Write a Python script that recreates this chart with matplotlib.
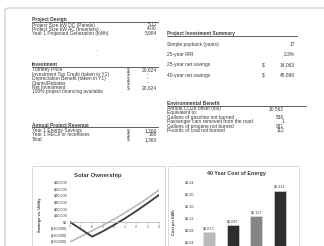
import matplotlib.pyplot as plt
from matplotlib.patches import FancyBboxPatch, Rectangle
from matplotlib.lines import Line2D

W, H = 324, 246

# table contents
design_labels = ["Project Size kW DC (Panels)", "Project Size kW AC (Inverters)",
                 "Year 1 Projected Generation (kWh)"]
design_values = ["5.12", "4.00", "5,984"]

invest_labels = ["Turnkey Price", "Investment Tax Credit (taken in Y1)",
                 "Depreciation Benefit (taken in Y1)", "Grants/Rebates", "Net Investment"]
invest_values = ["20,624", "-", "-", "-", "20,624"]
invest_note = "100% project financing available"

revenue_labels = ["Year 1 Energy Savings", "Year 1 RECs or Incentives", "Total"]
revenue_values = ["1,260", "100", "1,360"]

summary_labels = ["Simple payback (years)", "25-year IRR", "25-year net savings",
                  "40-year net savings"]
summary_values = ["17", "2.3%", "14,063", "45,896"]
summary_dollar = [False, False, True, True]

env_labels = ["Annual CO2e offset (lbs)", "Equivalent to:", "Gallons of gasoline not burned",
              "Passenger cars removed from the road", "Gallons of propane not burned",
              "Pounds of coal not burned"]
env_values = ["10,562", "", "538", "1", "931", "112"]

# chart data
own_years = [0, 5, 10, 15, 20, 25, 30, 35, 40]
own_financed = [0, -11000, -22000, -13500, -4000, 6000, 17000, 28500, 40500]
own_cash = [-30000, -21500, -13000, -4500, 4500, 14500, 25000, 36000, 48000]
own_yticks = [-30000, -20000, -10000, 0, 10000, 20000, 30000, 40000, 50000, 60000]

coe_values = [0.073, 0.097, 0.127, 0.211]
coe_colors = ["#b9b9b9", "#2e2e2e", "#858585", "#2e2e2e"]
coe_yticks = [0.04, 0.08, 0.12, 0.16, 0.20, 0.24]

FONT = "Liberation Sans"
FS = 3.5
TXT = "#3a3a3a"


def fx(x):
    return x / W


def fy(y):
    return 1 - y / H


def text(fig, x, y, s, ha="left", **kw):
    kw.setdefault("fontsize", FS)
    kw.setdefault("color", TXT)
    fig.text(fx(x), fy(y), s, ha=ha, va="center", family=FONT, zorder=5, **kw)


def header(fig, x0, x1, y, s):
    text(fig, x0, y, s, fontweight="bold")
    fig.add_artist(Line2D([fx(x0), fx(x1)], [fy(y + 2.3)] * 2, color="#444444", lw=0.6,
                          zorder=5))


def money_fmt(v, pos=None):
    if v < 0:
        return f"(${-v:,.0f})"
    return f"${v:,.0f}"


fig = plt.figure(figsize=(W / 100, H / 100), dpi=100)
fig.patch.set_facecolor("white")

# page frame
fig.add_artist(FancyBboxPatch((fx(5), fy(260)), fx(330), fy(8) - fy(260),
                              boxstyle="round,pad=0,rounding_size=0.012",
                              transform=fig.transFigure, fc="white", ec="#c4c4c4", lw=0.8,
                              zorder=-2))

# Project Design
header(fig, 32, 158, 20, "Project Design")
for i, (lab, val) in enumerate(zip(design_labels, design_values)):
    y = 25 + 4 * i
    text(fig, 32, y, lab)
    text(fig, 157, y, val, ha="right")
text(fig, 96, 52, "'", color="#999999")

# Investment
header(fig, 32, 158, 65, "Investment")
for i, (lab, val) in enumerate(zip(invest_labels, invest_values)):
    y = 70 + 4.4 * i
    text(fig, 32, y, lab)
    text(fig, 127, y, "$")
    if val == "-":
        text(fig, 148, y, val, ha="center")
    else:
        text(fig, 157, y, val, ha="right")
text(fig, 32, 70 + 4.4 * 5, invest_note)

# Annual Project Revenue
header(fig, 32, 158, 125, "Annual Project Revenue")
for i, (lab, val) in enumerate(zip(revenue_labels, revenue_values)):
    y = 130.7 + 4.3 * i
    text(fig, 32, y, lab)
    text(fig, 127, y, "$")
    text(fig, 157, y, val, ha="right")

# Project Investment Summary
header(fig, 167, 297, 33.3, "Project Investment Summary")
for i, (lab, val) in enumerate(zip(summary_labels, summary_values)):
    y = 44.3 + 10.3 * i
    text(fig, 167, y, lab)
    if summary_dollar[i]:
        text(fig, 262, y, "$")
    text(fig, 295, y, val, ha="right")

# Environmental Benefit
header(fig, 167, 306, 103.3, "Environmental Benefit")
for i, (lab, val) in enumerate(zip(env_labels, env_values)):
    y = 108.3 + 4.5 * i
    text(fig, 167, y, lab)
    text(fig, 284, y, val, ha="right")

# chart frames
for x0, x1 in [(32, 165), (168, 299)]:
    fig.add_artist(Rectangle((fx(x0), fy(262)), fx(x1) - fx(x0), fy(166) - fy(262),
                             transform=fig.transFigure, fc="white", ec="#d4d4d4", lw=0.6,
                             zorder=-1))

# Solar Ownership
ax1 = fig.add_axes([fx(70), fy(242), fx(159) - fx(70), fy(182) - fy(242)], zorder=3)
ax1.plot(own_years, own_cash, color="#b5b5b5", lw=1.1)
ax1.plot(own_years, own_financed, color="#3a3a3a", lw=1.3)
ax1.set_xlim(0, 40)
ax1.set_ylim(-30000, 60000)
ax1.set_yticks(own_yticks)
ax1.yaxis.set_major_formatter(plt.FuncFormatter(money_fmt))
ax1.set_xticks(own_years)
for s in ["top", "right", "left"]:
    ax1.spines[s].set_visible(False)
ax1.spines["bottom"].set_position(("data", 0))
ax1.spines["bottom"].set_color("#aaaaaa")
ax1.spines["bottom"].set_linewidth(0.5)
ax1.tick_params(axis="y", length=0, labelsize=2.7, labelcolor=TXT, pad=2)
ax1.tick_params(axis="x", length=1.2, width=0.4, color="#aaaaaa", labelsize=1.9,
                labelcolor="#666666", pad=0.8)
for t in ax1.get_xticklabels() + ax1.get_yticklabels():
    t.set_family(FONT)
ax1.set_facecolor("none")
text(fig, 98, 176, "Solar Ownership", ha="center", fontsize=4.3, fontweight="bold")
fig.text(fx(40), fy(215), "Savings vs. Utility", rotation=90, ha="center", va="center",
         family=FONT, fontsize=2.9, fontweight="bold", color=TXT, zorder=5)

# 40 Year Cost of Energy
ax2 = fig.add_axes([fx(197), fy(254), fx(292) - fx(197), fy(182) - fy(254)], zorder=3)
xs = range(len(coe_values))
ax2.bar(xs, coe_values, width=0.5, color=coe_colors, edgecolor="#e0e0e0", linewidth=0.4)
for x, v in zip(xs, coe_values):
    ax2.text(x, v + 0.006, f"${v:.3f}", ha="center", va="bottom", family=FONT,
             fontsize=2.7, color=TXT)
ax2.set_xlim(-0.5, 3.5)
ax2.set_ylim(0, 0.24)
ax2.set_yticks(coe_yticks)
ax2.yaxis.set_major_formatter(plt.FuncFormatter(lambda v, p: f"${v:.2f}"))
ax2.set_xticks([])
for s in ["top", "right", "left", "bottom"]:
    ax2.spines[s].set_visible(False)
ax2.tick_params(axis="y", length=0, labelsize=2.7, labelcolor=TXT, pad=2)
for t in ax2.get_yticklabels():
    t.set_family(FONT)
ax2.set_facecolor("none")
text(fig, 236, 174, "40 Year Cost of Energy", ha="center", fontsize=3.9, fontweight="bold")
fig.text(fx(174), fy(222), "Cost per kWh", rotation=90, ha="center", va="center",
         family=FONT, fontsize=2.9, fontweight="bold", color=TXT, zorder=5)

fig.savefig("out.png", dpi=100)
